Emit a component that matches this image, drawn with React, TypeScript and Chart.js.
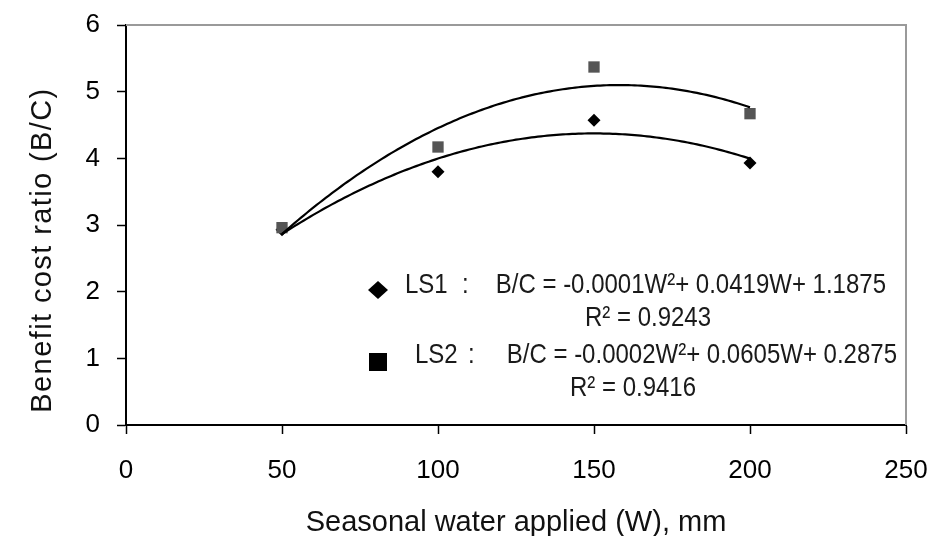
import React, { useEffect, useRef } from 'react';
import { Chart, registerables } from 'chart.js';

Chart.register(...registerables);

// ---- data ----
const waterApplied = [50, 100, 150, 200];
const ls1Values = [2.93, 3.8, 4.57, 3.93];
const ls2Values = [2.96, 4.17, 5.37, 4.67];
const xTickValues = [0, 50, 100, 150, 200, 250];
const yTickValues = [0, 1, 2, 3, 4, 5, 6];
const xTitle = 'Seasonal water applied (W), mm';
const yTitle = 'Benefit cost ratio (B/C)';
const ls1Label = 'LS1';
const ls1Equation = 'B/C = -0.0001W²+ 0.0419W+ 1.1875';
const ls1R2 = 'R² = 0.9243';
const ls2Label = 'LS2';
const ls2Equation = 'B/C = -0.0002W²+ 0.0605W+ 0.2875';
const ls2R2 = 'R² = 0.9416';

// least-squares quadratic trend computed from the data arrays
function quadFit(xs: number[], ys: number[]) {
  const s = [0, 0, 0, 0, 0];
  const t = [0, 0, 0];
  for (let i = 0; i < xs.length; i++) {
    let p = 1;
    for (let k = 0; k < 5; k++) {
      s[k] += p;
      if (k < 3) t[k] += p * ys[i];
      p *= xs[i];
    }
  }
  const M = [
    [s[0], s[1], s[2], t[0]],
    [s[1], s[2], s[3], t[1]],
    [s[2], s[3], s[4], t[2]],
  ];
  for (let c = 0; c < 3; c++) {
    for (let r = c + 1; r < 3; r++) {
      const f = M[r][c] / M[c][c];
      for (let k = c; k < 4; k++) M[r][k] -= f * M[c][k];
    }
  }
  const b = [0, 0, 0];
  for (let r = 2; r >= 0; r--) {
    let v = M[r][3];
    for (let k = r + 1; k < 3; k++) v -= M[r][k] * b[k];
    b[r] = v / M[r][r];
  }
  return (x: number) => b[0] + b[1] * x + b[2] * x * x;
}

function trendPoints(xs: number[], ys: number[]) {
  const f = quadFit(xs, ys);
  const lo = Math.min(...xs);
  const hi = Math.max(...xs);
  const pts: { x: number; y: number }[] = [];
  for (let x = lo; x <= hi + 1e-9; x += 1) pts.push({ x, y: f(x) });
  return pts;
}

const FONT = '"Liberation Sans", Arial, sans-serif';

function tallText(ctx: any, text: string, x: number, y: number, align: string) {
  ctx.save();
  ctx.translate(x, y);
  ctx.scale(1, 1.18);
  ctx.textAlign = align;
  ctx.fillText(text, 0, 0);
  ctx.restore();
}

const decorPlugin = {
  id: 'decor',
  afterDraw(chart: any) {
    const { ctx, chartArea } = chart;
    const { left, right, top, bottom } = chartArea;
    ctx.save();
    // top & right frame
    ctx.strokeStyle = '#9a9a9a';
    ctx.lineWidth = 2;
    ctx.beginPath();
    ctx.moveTo(left, top);
    ctx.lineTo(right, top);
    ctx.lineTo(right, bottom);
    ctx.stroke();

    ctx.fillStyle = '#111';
    // x title
    ctx.font = `29px ${FONT}`;
    ctx.textAlign = 'center';
    ctx.textBaseline = 'alphabetic';
    ctx.fillText(xTitle, (left + right) / 2, 531);

    // y title
    ctx.save();
    ctx.translate(51, 250);
    ctx.rotate(-Math.PI / 2);
    ctx.font = `29px ${FONT}`;
    (ctx as any).letterSpacing = '1.4px';
    ctx.fillText(yTitle, 0, 0);
    ctx.restore();

    // legend block
    ctx.fillStyle = '#000';
    // diamond
    ctx.beginPath();
    ctx.moveTo(378, 281);
    ctx.lineTo(388, 290);
    ctx.lineTo(378, 299);
    ctx.lineTo(368, 290);
    ctx.closePath();
    ctx.fill();
    // square
    ctx.fillRect(369, 353, 18, 18);

    ctx.fillStyle = '#1a1a1a';
    ctx.font = `24px ${FONT}`;
    tallText(ctx, ls1Label, 405, 293, 'left');
    tallText(ctx, ':', 462, 293, 'left');
    tallText(ctx, ls1Equation, 886, 293, 'right');
    tallText(ctx, ls1R2, 648, 326, 'center');
    tallText(ctx, ls2Label, 415, 363, 'left');
    tallText(ctx, ':', 468, 363, 'left');
    tallText(ctx, ls2Equation, 897, 363, 'right');
    tallText(ctx, ls2R2, 633, 396, 'center');
    ctx.restore();
  },
};

export default function App() {
  const ref = useRef<HTMLCanvasElement>(null);
  useEffect(() => {
    if (!ref.current) return;
    const chart = new Chart(ref.current, {
      type: 'scatter',
      data: {
        datasets: [
          {
            label: 'LS1 trend',
            data: trendPoints(waterApplied, ls1Values),
            showLine: true,
            borderColor: '#000',
            borderWidth: 2.2,
            pointRadius: 0,
            tension: 0,
          },
          {
            label: 'LS2 trend',
            data: trendPoints(waterApplied, ls2Values),
            showLine: true,
            borderColor: '#000',
            borderWidth: 2.2,
            pointRadius: 0,
            tension: 0,
          },
          {
            label: 'LS2',
            data: waterApplied.map((x, i) => ({ x, y: ls2Values[i] })),
            pointStyle: 'rect',
            pointRadius: 8,
            backgroundColor: '#555',
            borderColor: '#555',
            borderWidth: 0,
          },
          {
            label: 'LS1',
            data: waterApplied.map((x, i) => ({ x, y: ls1Values[i] })),
            pointStyle: 'rectRot',
            pointRadius: 6.5,
            backgroundColor: '#000',
            borderColor: '#000',
            borderWidth: 0,
          },
        ],
      },
      options: {
        responsive: false,
        animation: false,
        layout: { padding: { top: 25, right: 28, left: 0, bottom: 0 } },
        plugins: { legend: { display: false }, tooltip: { enabled: false } },
        scales: {
          x: {
            type: 'linear',
            min: 0,
            max: 250,
            afterBuildTicks: (s: any) => {
              s.ticks = xTickValues.map((v) => ({ value: v }));
            },
            afterFit: (s: any) => {
              s.height = 111;
              s.paddingLeft = 0;
              s.paddingRight = 0;
            },
            ticks: {
              color: '#000',
              font: { family: FONT, size: 26 },
              padding: 21,
              maxRotation: 0,
            },
            grid: {
              drawOnChartArea: false,
              drawTicks: true,
              tickLength: 9,
              tickColor: '#000',
              tickWidth: 1.5,
            },
            border: { color: '#000', width: 2 },
          },
          y: {
            type: 'linear',
            min: 0,
            max: 6,
            afterBuildTicks: (s: any) => {
              s.ticks = yTickValues.map((v) => ({ value: v }));
            },
            afterFit: (s: any) => {
              s.width = 126;
              s.paddingTop = 0;
              s.paddingBottom = 0;
            },
            ticks: {
              color: '#000',
              font: { family: FONT, size: 26 },
              padding: 17,
            },
            grid: {
              drawOnChartArea: false,
              drawTicks: true,
              tickLength: 9,
              tickColor: '#000',
              tickWidth: 1.5,
            },
            border: { color: '#000', width: 2 },
          },
        },
      },
      plugins: [decorPlugin],
    });
    return () => chart.destroy();
  }, []);
  return (
    <div style={{ position: 'fixed', left: 0, top: 0, width: 934, height: 536, background: '#fff' }}>
      <canvas ref={ref} width={934} height={536} style={{ display: 'block' }} />
    </div>
  );
}
